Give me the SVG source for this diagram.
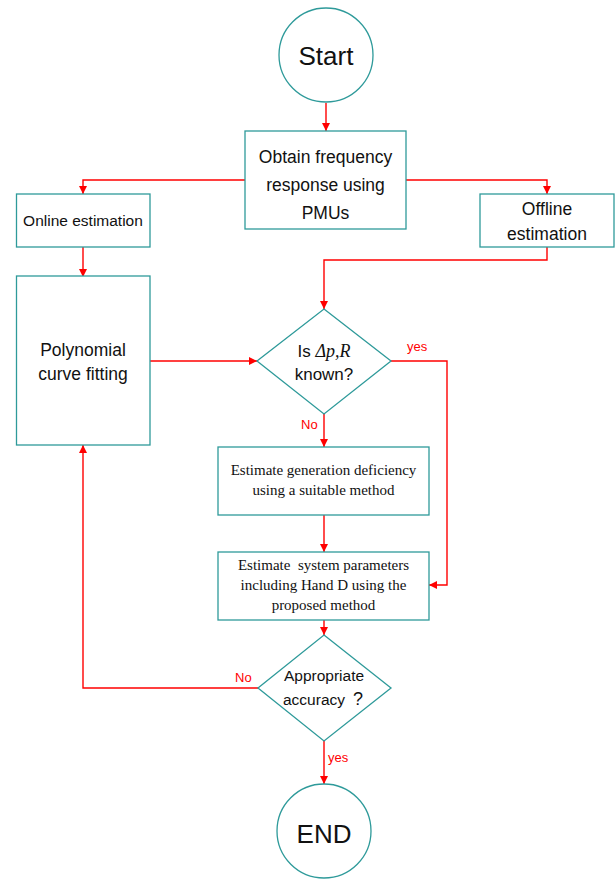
<svg xmlns="http://www.w3.org/2000/svg" width="615" height="879" viewBox="0 0 615 879">
<defs>
<marker id="ah" viewBox="0 0 10 10" refX="10" refY="5" markerWidth="8" markerHeight="8" markerUnits="userSpaceOnUse" orient="auto">
<path d="M0,0 L10,5 L0,10 z" fill="#ff0000"/>
</marker>
<style>
.n{fill:#fff;stroke:#2e9a9a;stroke-width:1.3}
.c{fill:none;stroke:#ff0000;stroke-width:1.4;marker-end:url(#ah)}
.s{font-family:"Liberation Sans",Arial,sans-serif;fill:#111;text-anchor:middle}
.r{font-family:"Liberation Serif","Times New Roman",serif;fill:#111;text-anchor:middle;font-size:15px}
.l{font-family:"Liberation Sans",Arial,sans-serif;fill:#ff0000;font-size:13px}
</style>
</defs>
<rect width="615" height="879" fill="#fff"/>
<g id="connectors">
<path class="c" d="M326,103 V131"/>
<path class="c" d="M245,180 H83 V194"/>
<path class="c" d="M406,180 H547 V194"/>
<path class="c" d="M83,247 V277"/>
<path class="c" d="M547,247 V260 H324 V309"/>
<path class="c" d="M150,361 H257"/>
<path class="c" d="M391,361 H447 V585 H429"/>
<path class="c" d="M324,414 V447"/>
<path class="c" d="M324,515 V552"/>
<path class="c" d="M324,620 V635"/>
<path class="c" d="M258,688 H83 V445"/>
<path class="c" d="M324,741 V784"/>
<text class="l" x="407" y="351">yes</text>
<text class="l" x="301" y="429">No</text>
<text class="l" x="235" y="682">No</text>
<text class="l" x="328" y="762">yes</text>
</g>
<g id="start">
<circle class="n" cx="326" cy="55" r="47"/>
<text class="s" x="326" y="65" font-size="26">Start</text>
</g>
<g id="obtain">
<rect class="n" x="245" y="131" width="161" height="98"/>
<text class="s" x="325.5" y="163" font-size="17.5">Obtain frequency</text>
<text class="s" x="325.5" y="191" font-size="17.5">response using</text>
<text class="s" x="325.5" y="219" font-size="17.5">PMUs</text>
</g>
<g id="online">
<rect class="n" x="16.5" y="194" width="133.5" height="53"/>
<text class="s" x="83" y="226" font-size="15.5">Online estimation</text>
</g>
<g id="offline">
<rect class="n" x="480" y="194" width="134" height="53"/>
<text class="s" x="547" y="215" font-size="17.5">Offline</text>
<text class="s" x="547" y="240" font-size="17.5">estimation</text>
</g>
<g id="poly">
<rect class="n" x="16.5" y="276" width="133.5" height="169"/>
<text class="s" x="83" y="356" font-size="17.5">Polynomial</text>
<text class="s" x="83" y="380" font-size="17.5">curve fitting</text>
</g>
<g id="known">
<polygon class="n" points="324,309 391,361 324,414 257,361"/>
<text class="s" x="324" y="357" font-size="17">Is <tspan font-family="Liberation Serif, serif" font-style="italic" font-size="18">Δp,R</tspan></text>
<text class="s" x="324" y="380" font-size="17">known?</text>
</g>
<g id="deficiency">
<rect class="n" x="218" y="447" width="211" height="68"/>
<text class="r" x="323.5" y="475">Estimate generation deficiency</text>
<text class="r" x="323.5" y="495">using a suitable method</text>
</g>
<g id="params">
<rect class="n" x="218" y="552" width="211" height="68"/>
<text class="r" x="323.5" y="570" xml:space="preserve">Estimate  system parameters</text>
<text class="r" x="323.5" y="590">including Hand D using the</text>
<text class="r" x="323.5" y="610">proposed method</text>
</g>
<g id="accuracy">
<polygon class="n" points="324,635 391,688 324,741 258,688"/>
<text class="s" x="324" y="681" font-size="15.5">Appropriate</text>
<text class="s" x="314" y="705" font-size="15.5">accuracy</text>
<text class="s" x="358" y="705" font-size="18">?</text>
</g>
<g id="end">
<circle class="n" cx="324" cy="831" r="47"/>
<text class="s" x="324" y="843" font-size="26">END</text>
</g>
</svg>
